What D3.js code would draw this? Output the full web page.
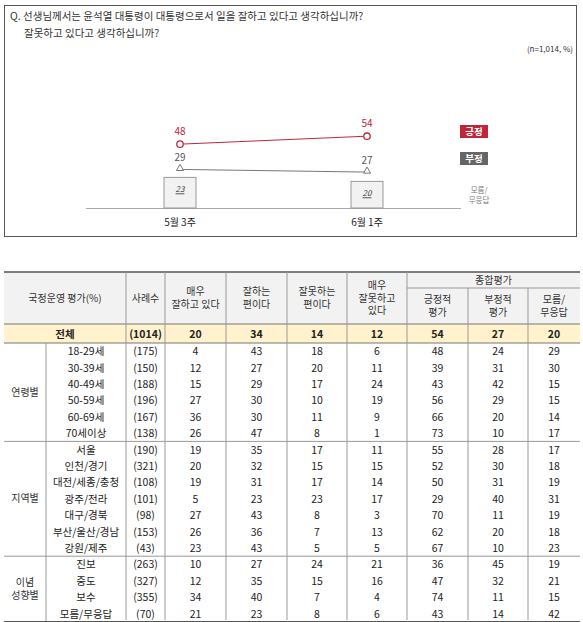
<!DOCTYPE html>
<html><head><meta charset="utf-8">
<script src="https://cdn.jsdelivr.net/npm/d3@7"></script>
<style>body{margin:0;background:#fff}svg{font-family:"Noto Sans CJK KR",sans-serif}</style>
</head><body><svg id="c" width="583" height="622"></svg>
<script>
var periods = ['5월 3주', '6월 1주'];
var positive = [48, 54];
var negative = [29, 27];
var unknown = [23, 20];

var colHeads = ['사례수', '매우\n잘하고 있다', '잘하는\n편이다', '잘못하는\n편이다', '매우\n잘못하고\n있다', '긍정적\n평가', '부정적\n평가', '모름/\n무응답'];
var totalRow = ['(1014)', 20, 34, 14, 12, 54, 27, 20];
var groups = ['연령별', '지역별', '이념\n성향별'];
var rowLabels = [
  ['18-29세', '30-39세', '40-49세', '50-59세', '60-69세', '70세이상'],
  ['서울', '인천/경기', '대전/세종/충청', '광주/전라', '대구/경북', '부산/울산/경남', '강원/제주'],
  ['진보', '중도', '보수', '모름/무응답']
];
var rowValues = [
  [['(175)',4,43,18,6,48,24,29],['(150)',12,27,20,11,39,31,30],['(188)',15,29,17,24,43,42,15],
   ['(196)',27,30,10,19,56,29,15],['(167)',36,30,11,9,66,20,14],['(138)',26,47,8,1,73,10,17]],
  [['(190)',19,35,17,11,55,28,17],['(321)',20,32,15,15,52,30,18],['(108)',19,31,17,14,50,31,19],
   ['(101)',5,23,23,17,29,40,31],['(98)',27,43,8,3,70,11,19],['(153)',26,36,7,13,62,20,18],['(43)',23,43,5,5,67,10,23]],
  [['(263)',10,27,24,21,36,45,19],['(327)',12,35,15,16,47,32,21],['(355)',34,40,7,4,74,11,15],['(70)',21,23,8,6,43,14,42]]
];

var svg = d3.select('#c');
var red = '#c0263a', gray = '#666';

// question box
svg.append('rect').attr('x', 4.5).attr('y', 5.5).attr('width', 572).attr('height', 231)
  .attr('fill', 'none').attr('stroke', '#555');
svg.append('text').attr('x', 10).attr('y', 20).attr('font-size', 10.5).attr('fill', '#333')
  .text('Q. 선생님께서는 윤석열 대통령이 대통령으로서 일을 잘하고 있다고 생각하십니까?');
svg.append('text').attr('x', 24).attr('y', 37).attr('font-size', 10.5).attr('fill', '#333')
  .text('잘못하고 있다고 생각하십니까?');
svg.append('text').attr('x', 573).attr('y', 52).attr('font-size', 8).attr('fill', '#333')
  .attr('text-anchor', 'end').text('(n=1,014,  %)');

var x = d3.scalePoint().domain(periods).range([180, 367]);
var y = d3.scaleLinear().domain([0, 100]).range([208, 75]);

svg.append('line').attr('x1', 86).attr('x2', 461).attr('y1', 208.5).attr('y2', 208.5).attr('stroke', '#aaa');
svg.selectAll('.bar').data(unknown).enter().append('rect')
  .attr('x', (d, i) => x(periods[i]) - 16).attr('width', 32)
  .attr('y', d => y(d)).attr('height', d => y(0) - y(d))
  .attr('fill', '#f2f2f2').attr('stroke', '#999');
svg.selectAll('.barl').data(unknown).enter().append('text')
  .attr('x', (d, i) => x(periods[i])).attr('y', d => y(d) + 15)
  .attr('text-anchor', 'middle').attr('font-size', 8).attr('font-style', 'italic').attr('fill', '#333')
  .attr('text-decoration', 'underline').text(d => d);

var line = d3.line().x((d, i) => x(periods[i])).y(d => y(d));
svg.append('path').attr('d', line(negative)).attr('fill', 'none').attr('stroke', '#777');
svg.append('path').attr('d', line(positive)).attr('fill', 'none').attr('stroke', red);
svg.selectAll('.tri').data(negative).enter().append('path')
  .attr('d', d3.symbol(d3.symbolTriangle, 22))
  .attr('transform', (d, i) => 'translate(' + x(periods[i]) + ',' + (y(d) - 1) + ')')
  .attr('fill', '#fff').attr('stroke', '#777');
svg.selectAll('.cir').data(positive).enter().append('circle')
  .attr('cx', (d, i) => x(periods[i])).attr('cy', d => y(d)).attr('r', 3.2)
  .attr('fill', '#fff').attr('stroke', red).attr('stroke-width', 1.3);
svg.selectAll('.pl').data(positive).enter().append('text')
  .attr('x', (d, i) => x(periods[i])).attr('y', d => y(d) - 9)
  .attr('text-anchor', 'middle').attr('font-size', 10).attr('fill', red).text(d => d);
svg.selectAll('.nl').data(negative).enter().append('text')
  .attr('x', (d, i) => x(periods[i])).attr('y', d => y(d) - 8)
  .attr('text-anchor', 'middle').attr('font-size', 10).attr('fill', '#555').text(d => d);
svg.selectAll('.xl').data(periods).enter().append('text')
  .attr('x', d => x(d)).attr('y', 226).attr('text-anchor', 'middle').attr('font-size', 10).attr('fill', '#222').text(d => d);

[['긍정', red, 125], ['부정', gray, 152]].forEach(function (l) {
  svg.append('rect').attr('x', 460).attr('y', l[2]).attr('width', 28).attr('height', 13).attr('fill', l[1]);
  svg.append('text').attr('x', 474).attr('y', l[2] + 10).attr('text-anchor', 'middle')
    .attr('font-size', 9.5).attr('font-weight', 'bold').attr('fill', '#fff').text(l[0]);
});
svg.append('text').attr('x', 479).attr('y', 193).attr('text-anchor', 'middle').attr('font-size', 7.5).attr('fill', '#777').text('모름/');
svg.append('text').attr('x', 479).attr('y', 203).attr('text-anchor', 'middle').attr('font-size', 7.5).attr('fill', '#777').text('무응답');

// table
var colX = [4, 46, 126, 165, 226, 287, 347, 407, 468, 528, 580];
var tTop = 272, headBot = 324, totBot = 343, rh = 16.4, split = 288;
var t = svg.append('g').attr('font-size', 10).attr('fill', '#222');

t.append('rect').attr('x', 4).attr('y', tTop).attr('width', 576).attr('height', headBot - tTop).attr('fill', '#f2f2f2');
t.append('rect').attr('x', 4).attr('y', headBot).attr('width', 576).attr('height', totBot - headBot).attr('fill', '#fff2cc');

function mtext(g, cx, cy, s) {
  var parts = s.split('\n'), lh = 12.5;
  var tx = g.append('text').attr('text-anchor', 'middle').attr('font-size', 10).attr('fill', '#333');
  parts.forEach(function (p, i) {
    tx.append('tspan').attr('x', cx).attr('y', cy + (i - (parts.length - 1) / 2) * lh + 3.5).text(p);
  });
  return tx;
}
mtext(t, (colX[0] + colX[2]) / 2, (tTop + headBot) / 2, '국정운영 평가(%)');
colHeads.forEach(function (h, i) {
  var c = i + 2;
  var cy = c >= 7 ? (split + headBot) / 2 : (tTop + headBot) / 2;
  mtext(t, (colX[c] + colX[c + 1]) / 2, cy, h);
});
mtext(t, (colX[7] + colX[10]) / 2, 280, '종합평가');

var ln = function (x1, y1, x2, y2, c, w) {
  t.append('line').attr('x1', x1).attr('y1', y1).attr('x2', x2).attr('y2', y2).attr('stroke', c || '#999').attr('stroke-width', w || 1);
};
ln(4, tTop, 580, tTop, '#555', 1.5);
ln(407, split, 580, split);
ln(4, headBot, 580, headBot, '#777');
ln(4, totBot, 580, totBot, '#777');
[2, 3, 4, 5, 6, 7].forEach(c => ln(colX[c], tTop, colX[c], 620));
[8, 9].forEach(c => ln(colX[c], split, colX[c], 620));

t.append('text').attr('x', (colX[0] + colX[2]) / 2).attr('y', 338).attr('text-anchor', 'middle')
  .attr('font-weight', 'bold').attr('font-size', 10.5).text('전체');
totalRow.forEach(function (v, i) {
  t.append('text').attr('x', (colX[i + 2] + colX[i + 3]) / 2).attr('y', 338).attr('text-anchor', 'middle')
    .attr('font-weight', 'bold').attr('font-size', 10.5).text(v);
});

var yy = totBot;
groups.forEach(function (g, gi) {
  var n = rowLabels[gi].length, g0 = yy, g1 = yy + n * rh;
  ln(46, g0, 46, g1);
  mtext(t, 25, (g0 + g1) / 2, g);
  rowLabels[gi].forEach(function (lab, ri) {
    var cy = g0 + ri * rh + rh / 2 + 4;
    t.append('text').attr('x', 86).attr('y', cy).attr('text-anchor', 'middle').attr('font-size', 10.5).text(lab);
    rowValues[gi][ri].forEach(function (v, ci) {
      t.append('text').attr('x', (colX[ci + 2] + colX[ci + 3]) / 2).attr('y', cy)
        .attr('text-anchor', 'middle').attr('font-size', 10.5).text(v);
    });
  });
  yy = g1;
  ln(4, yy, 580, yy, gi === 2 ? '#555' : '#999', gi === 2 ? 1.5 : 1);
});
</script></body></html>
